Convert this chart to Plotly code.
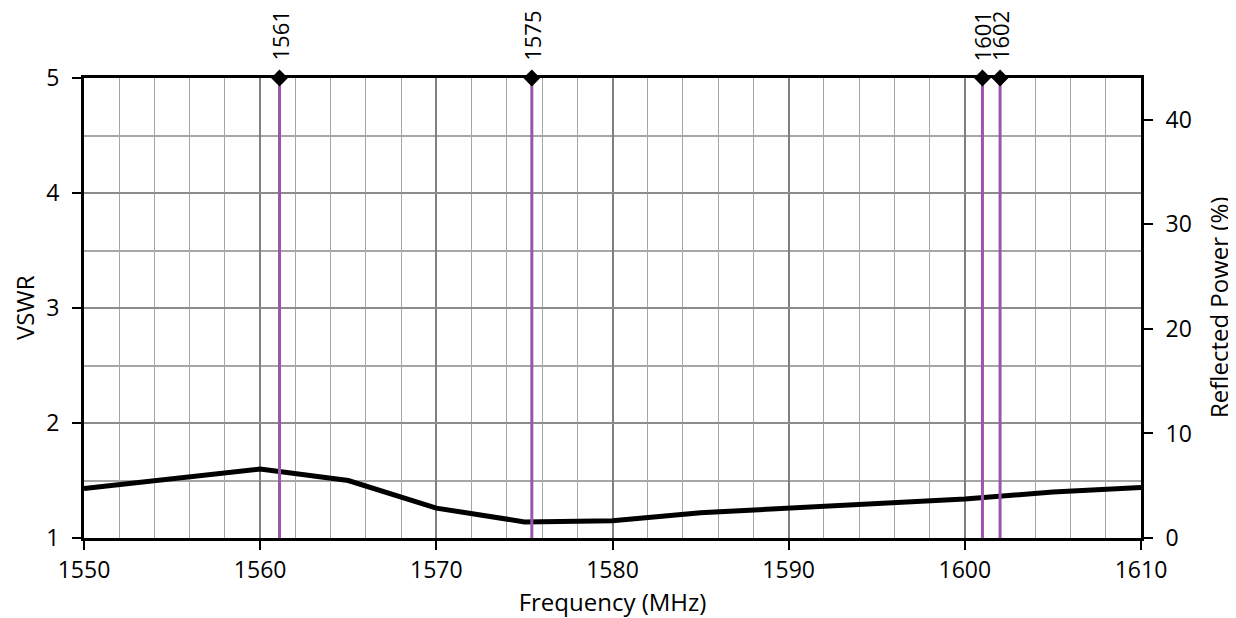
import plotly.graph_objects as go

freq = [1550, 1555, 1560, 1565, 1570, 1575, 1580, 1585, 1590, 1595, 1600, 1605, 1610]
vswr = [1.43, 1.52, 1.60, 1.50, 1.26, 1.14, 1.15, 1.22, 1.26, 1.29, 1.34, 1.40, 1.44]
marker_freqs = [1561.098, 1575.42, 1601, 1602]
marker_labels = ["1561", "1575", "1601", "1602"]

FONT = "Open Sans"
FS_TICK = 23
FS_TITLE = 24
FS_ANN = 22
PURPLE = "#9b55b0"

fig = go.Figure()
fig.add_trace(go.Scatter(x=freq, y=vswr, mode="lines",
                         line=dict(color="black", width=5), showlegend=False))
for f in marker_freqs:
    fig.add_trace(go.Scatter(x=[f, f], y=[1, 5], mode="lines",
                             line=dict(color=PURPLE, width=3), showlegend=False))
fig.add_trace(go.Scatter(x=marker_freqs, y=[5] * len(marker_freqs), mode="markers",
                         marker=dict(symbol="diamond", size=13, color="black"),
                         cliponaxis=False, showlegend=False))
# invisible trace on secondary axis
fig.add_trace(go.Scatter(x=[1550], y=[0], yaxis="y2", mode="markers",
                         marker=dict(opacity=0), showlegend=False, hoverinfo="skip"))

for f, lab in zip(marker_freqs, marker_labels):
    fig.add_annotation(x=f, y=5, xref="x", yref="y", text=lab, textangle=-90,
                       showarrow=False, yanchor="bottom", xanchor="center", yshift=15,
                       font=dict(family=FONT, size=FS_ANN, color="black"))

# axis titles for the vertical axes
fig.add_annotation(x=0, y=0.5, xref="paper", yref="paper", text="VSWR", textangle=-90,
                   showarrow=False, xanchor="center", yanchor="middle", xshift=-60,
                   font=dict(family=FONT, size=FS_TITLE, color="black"))
fig.add_annotation(x=1, y=0.5, xref="paper", yref="paper", text="Reflected Power (%)",
                   textangle=-90, showarrow=False, xanchor="center", yanchor="middle",
                   xshift=77, font=dict(family=FONT, size=FS_TITLE, color="black"))

fig.update_layout(
    width=1236, height=618,
    margin=dict(l=76, r=103, t=70, b=88),
    paper_bgcolor="white", plot_bgcolor="white",
    font=dict(family=FONT, size=FS_TICK, color="black"),
    xaxis=dict(range=[1550, 1610], dtick=10, tick0=1550,
               showgrid=True, gridcolor="#808080", gridwidth=2,
               minor=dict(dtick=2, showgrid=True, gridcolor="#a6a6a6", gridwidth=1),
               showline=True, linecolor="black", linewidth=3, mirror=True,
               ticks="outside", ticklen=9, tickwidth=2, tickcolor="black",
               zeroline=False, tickfont=dict(size=FS_TICK), automargin=False,
               title=dict(text="Frequency (MHz)", standoff=0, font=dict(size=FS_TITLE))),
    yaxis=dict(range=[1, 5], dtick=1, tick0=1,
               showgrid=True, gridcolor="#8c8c8c", gridwidth=2,
               minor=dict(dtick=0.5, showgrid=True, gridcolor="#a6a6a6", gridwidth=2),
               showline=True, linecolor="black", linewidth=3, mirror=True,
               ticks="outside", ticklen=9, tickwidth=2, tickcolor="black",
               zeroline=False, tickfont=dict(size=FS_TICK), ticklabelstandoff=8,
               automargin=False),
    yaxis2=dict(range=[0, 44], dtick=10, tick0=0, overlaying="y", side="right",
                showgrid=False, zeroline=False,
                showline=True, linecolor="black", linewidth=3,
                ticks="outside", ticklen=9, tickwidth=2, tickcolor="black",
                tickfont=dict(size=FS_TICK), ticklabelstandoff=8, automargin=False),
)

fig.write_html("out.html")
